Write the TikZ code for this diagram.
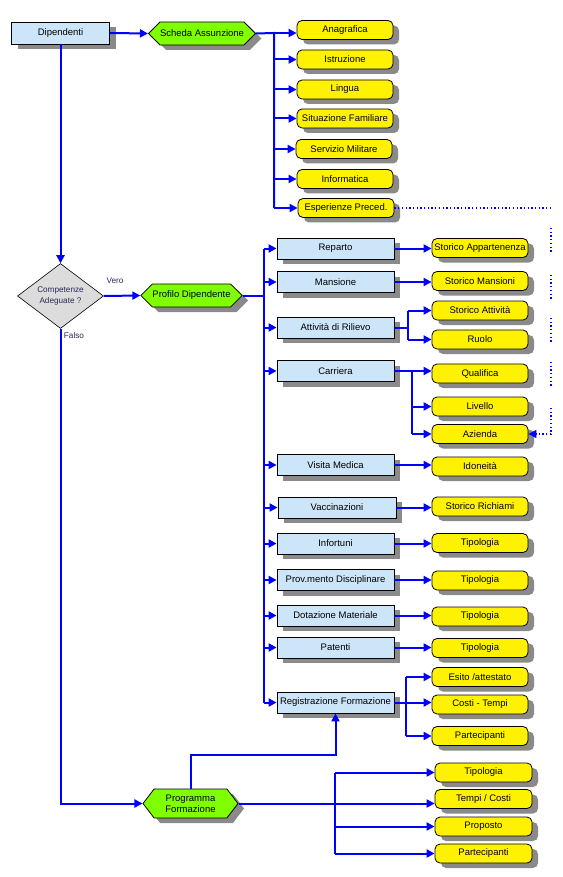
\documentclass[tikz,border=0pt]{standalone}
\usepackage{fontspec}
\setmainfont{Liberation Sans}
\usetikzlibrary{shapes.geometric,shapes.symbols,shadows,arrows.meta}
\definecolor{lblue}{HTML}{CCE5F9}
\definecolor{limegreen}{HTML}{80FF00}
\definecolor{shadowgray}{HTML}{8A8A8A}
\definecolor{diagray}{HTML}{DCDCDC}
\definecolor{navytext}{HTML}{2A2A5A}
\definecolor{linkblue}{HTML}{0000FF}
\begin{document}
\begin{tikzpicture}[x=1pt,y=-1pt,
  font=\fontsize{9.5}{11}\selectfont,
  boxshadow/.style={drop shadow={shadow xshift=6pt,shadow yshift=-5pt,fill=shadowgray,opacity=1}},
  bluebox/.style={rectangle,draw=black,line width=0.8pt,fill=lblue,minimum width=117pt,minimum height=21pt,inner sep=0pt,boxshadow},
  ybox/.style={rectangle,rounded corners=5pt,draw=black,line width=0.8pt,fill=yellow,minimum width=96pt,minimum height=19pt,inner sep=0pt,boxshadow},
  hexbox/.style={signal,signal to=east and west,signal pointer angle=90,draw=black,line width=0.8pt,fill=limegreen,inner sep=0pt,boxshadow,align=center},
  lbl/.style={text=navytext,font=\fontsize{8.2}{10}\selectfont,inner sep=0pt},
  link/.style={draw=linkblue,line width=2pt},
  arr/.style={link,-{Triangle[length=8pt,width=8pt]}},
  dotl/.style={draw=linkblue,line width=1.3pt,dash pattern=on 1.3pt off 2.4pt},
]
\fill[white] (0,0) rectangle (562,877);
\useasboundingbox (0,0) rectangle (562,877);

% --- top ---
\node[bluebox,minimum width=98pt,minimum height=22pt] (dip) at (60.5,33) {Dipendenti};
\node[hexbox,minimum width=96pt,minimum height=23pt] (sa) at (202,33.5) {Scheda Assunzione};

\node[ybox] (ana) at (345,30) {Anagrafica};
\node[ybox] (ist) at (345,59.5) {Istruzione};
\node[ybox] (lin) at (345,89.5) {Lingua};
\node[ybox] (sit) at (345,118.5) {Situazione Familiare};
\node[ybox] (ser) at (344,149) {Servizio Militare};
\node[ybox] (inf) at (345,179) {Informatica};
\node[ybox] (esp) at (346,208) {Esperienze Preced.};

% --- middle ---
\node[diamond,draw=black,line width=0.6pt,fill=diagray,minimum width=86pt,minimum height=56pt,inner sep=0pt,align=center,text=navytext,font=\fontsize{8.2}{11}\selectfont] (dia) at (60.5,296) {Competenze\\Adeguate ?};
\node[lbl] (vero) at (115,281) {Vero};
\node[lbl] (falso) at (74,336) {Falso};
\node[hexbox,minimum width=97pt,minimum height=23pt] (pd) at (191.5,295.5) {Profilo Dipendente};

\node[bluebox] (rep) at (335.5,248.5) {Reparto};
\node[bluebox] (man) at (335.5,282) {Mansione};
\node[bluebox] (att) at (335.5,327.5) {Attività di Rilievo};
\node[bluebox] (car) at (335.5,371) {Carriera};
\node[bluebox] (vis) at (335.5,465) {Visita Medica};
\node[bluebox,minimum width=118pt] (vac) at (337,507.5) {Vaccinazioni};
\node[bluebox] (infr) at (335.5,543.5) {Infortuni};
\node[bluebox] (prov) at (335.5,580) {Prov.mento Disciplinare};
\node[bluebox] (dot) at (335.5,615.5) {Dotazione Materiale};
\node[bluebox] (pat) at (335.5,647.5) {Patenti};
\node[bluebox] (reg) at (335.5,702.5) {Registrazione Formazione};

\node[ybox] (sap) at (480,248) {Storico Appartenenza};
\node[ybox] (smn) at (480,281) {Storico Mansioni};
\node[ybox] (sat) at (480,310.5) {Storico Attività};
\node[ybox] (ruo) at (480,339.5) {Ruolo};
\node[ybox] (qua) at (480,373.5) {Qualifica};
\node[ybox] (liv) at (480,406.5) {Livello};
\node[ybox] (azi) at (480,434) {Azienda};
\node[ybox] (ido) at (480,466.5) {Idoneità};
\node[ybox] (sri) at (480,506.5) {Storico Richiami};
\node[ybox] (tp1) at (480,543) {Tipologia};
\node[ybox] (tp2) at (480,580.5) {Tipologia};
\node[ybox] (tp3) at (480,616.5) {Tipologia};
\node[ybox] (tp4) at (480,648) {Tipologia};
\node[ybox] (esi) at (480,677) {Esito /attestato};
\node[ybox] (cos) at (480,704.5) {Costi - Tempi};
\node[ybox] (par) at (480,736) {Partecipanti};

% --- bottom ---
\node[hexbox,signal pointer angle=105,minimum width=95pt,minimum height=29pt] (pf) at (190.5,803.5) {Programma\\Formazione};
\node[ybox,minimum width=97pt] (tpc) at (483.5,772.5) {Tipologia};
\node[ybox,minimum width=97pt] (tco) at (483.5,799) {Tempi / Costi};
\node[ybox,minimum width=97pt] (pro) at (483.5,826.5) {Proposto};
\node[ybox,minimum width=97pt] (pac) at (483.5,853.5) {Partecipanti};

% --- coordinates ---
\coordinate (tA) at (274,33);
\coordinate (tB1) at (264,248.5);
\coordinate (tB2) at (264,702.5);
\coordinate (ka) at (408,327.5);
\coordinate (kc) at (412,371);
\coordinate (kr) at (406,702.5);
\coordinate (kp) at (190.5,755);
\coordinate (kv) at (335,772.5);
\coordinate (d0) at (551,208);
\coordinate (d1a) at (551,228); \coordinate (d1b) at (551,253);
\coordinate (d2a) at (551,275); \coordinate (d2b) at (551,300);
\coordinate (d3a) at (551,318); \coordinate (d3b) at (551,343);
\coordinate (d4a) at (551,362); \coordinate (d4b) at (551,387);
\coordinate (d5a) at (551,408); \coordinate (d5b) at (551,434);

% --- connectors top ---
\draw[arr] (dip.east) -- (sa.west);
\draw[link] (sa.east) -- (tA) -- (tA |- esp.west);
\draw[arr] (tA) -- (tA -| ana.west);
\draw[arr] (tA |- ist.west) -- (ist.west);
\draw[arr] (tA |- lin.west) -- (lin.west);
\draw[arr] (tA |- sit.west) -- (sit.west);
\draw[arr] (tA |- ser.west) -- (ser.west);
\draw[arr] (tA |- inf.west) -- (inf.west);
\draw[arr] (tA |- esp.west) -- (esp.west);

% dotted link
\draw[dotl] (esp.east) -- (d0);
\draw[dotl] (d1a) -- (d1b);
\draw[dotl] (d2a) -- (d2b);
\draw[dotl] (d3a) -- (d3b);
\draw[dotl] (d4a) -- (d4b);
\draw[dotl,-{Triangle[length=8pt,width=8pt]}] (d5a) -- (d5b) -- (d5b -| azi.east);

% --- connectors middle ---
\draw[arr] (dip.south) -- (dia.north);
\draw[arr] (dia.east) -- (pd.west);
\draw[link] (pd.east) -- (pd.east -| tB1);
\draw[link] (tB1) -- (tB2);
\foreach \b in {rep,man,att,car,vis,vac,infr,prov,dot,pat,reg}
  \draw[arr] (tB1 |- \b.west) -- (\b.west);

\draw[arr] (rep.east) -- (rep.east -| sap.west);
\draw[arr] (man.east) -- (man.east -| smn.west);
\draw[link] (att.east) -- (ka);
\draw[link] (ka |- sat.west) -- (ka |- ruo.west);
\draw[arr] (ka |- sat.west) -- (sat.west);
\draw[arr] (ka |- ruo.west) -- (ruo.west);
\draw[link] (car.east) -- (kc) -- (kc |- azi.west);
\draw[arr] (kc) -- (kc -| qua.west);
\draw[arr] (kc |- liv.west) -- (liv.west);
\draw[arr] (kc |- azi.west) -- (azi.west);
\draw[arr] (vis.east) -- (vis.east -| ido.west);
\draw[arr] (vac.east) -- (vac.east -| sri.west);
\draw[arr] (infr.east) -- (infr.east -| tp1.west);
\draw[arr] (prov.east) -- (prov.east -| tp2.west);
\draw[arr] (dot.east) -- (dot.east -| tp3.west);
\draw[arr] (pat.east) -- (pat.east -| tp4.west);
\draw[link] (kr |- esi.west) -- (kr |- par.west);
\draw[arr] (reg.east) -- (reg.east -| cos.west);
\draw[arr] (kr |- esi.west) -- (esi.west);
\draw[arr] (kr |- par.west) -- (par.west);

% --- connectors bottom ---
\draw[arr] (dia.south) |- (pf.west);
\draw[arr] (pf.north) -- (kp) -| (reg.south);
\draw[link] (kv) -- (kv |- pac.west);
\draw[arr] (kv) -- (tpc.west);
\draw[arr] (kv |- pro.west) -- (pro.west);
\draw[arr] (kv |- pac.west) -- (pac.west);
\draw[arr] (pf.east) -- (pf.east -| tco.west);
\end{tikzpicture}
\end{document}
